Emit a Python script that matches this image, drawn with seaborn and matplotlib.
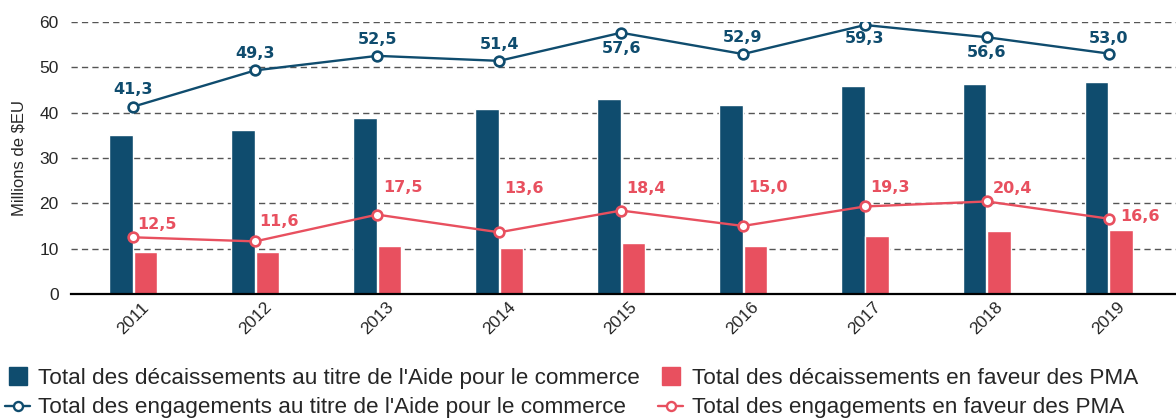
import matplotlib.pyplot as plt
import seaborn as sns
import pandas as pd
from matplotlib.lines import Line2D

# données (millions de $EU)
annees = ['2011', '2012', '2013', '2014', '2015', '2016', '2017', '2018', '2019']
decaissements_apc = [35.1, 36.1, 38.8, 40.8, 42.9, 41.6, 45.8, 46.3, 46.7]
decaissements_pma = [9.2, 9.2, 10.6, 10.1, 11.2, 10.6, 12.8, 13.9, 14.1]
engagements_apc = [41.3, 49.3, 52.5, 51.4, 57.6, 52.9, 59.3, 56.6, 53.0]
engagements_pma = [12.5, 11.6, 17.5, 13.6, 18.4, 15.0, 19.3, 20.4, 16.6]

noms = ["Total des décaissements au titre de l'Aide pour le commerce",
        "Total des décaissements en faveur des PMA",
        "Total des engagements au titre de l'Aide pour le commerce",
        "Total des engagements en faveur des PMA"]

bleu = '#0f4c6e'
rouge = '#e8505f'

sns.set_style('white')
plt.rcParams['font.family'] = ['Liberation Sans', 'DejaVu Sans']

barres = pd.DataFrame({
    'annee': annees * 2,
    'valeur': decaissements_apc + decaissements_pma,
    'serie': [noms[0]] * len(annees) + [noms[1]] * len(annees),
})

fig = plt.figure(figsize=(11.76, 4.2), dpi=100)
ax = fig.add_axes([0.0604, 0.30, 0.9396, 0.648])

sns.barplot(data=barres, x='annee', y='valeur', hue='serie', palette=[bleu, rouge],
            width=0.4, gap=0.04, saturation=1, legend=False, ax=ax, zorder=2)

for vals, c in [(engagements_apc, bleu), (engagements_pma, rouge)]:
    sns.pointplot(x=annees, y=vals, color=c, markers='o', errorbar=None,
                  linewidth=1.7, markersize=7, markeredgewidth=1.9,
                  markerfacecolor='white', ax=ax, zorder=4)

# étiquettes des valeurs
decal_apc = [12, 12, 12, 12, -11, 12, -10, -11, 11]
for i, v in enumerate(engagements_apc):
    ax.annotate(f'{v:.1f}'.replace('.', ','), (i, v), xytext=(0, decal_apc[i]),
                textcoords='offset points', ha='center', va='center',
                color=bleu, fontweight='bold', fontsize=11.5, family='DejaVu Sans')

decal_pma = [(3, 9.5), (3, 14.5), (4, 19.5), (4, 31.5), (4, 16), (4, 27.5), (4, 14), (4, 9.5), (8, 1.5)]
for i, v in enumerate(engagements_pma):
    ax.annotate(f'{v:.1f}'.replace('.', ','), (i, v), xytext=decal_pma[i],
                textcoords='offset points', ha='left', va='center',
                color=rouge, fontweight='bold', fontsize=11.5, family='DejaVu Sans')

ax.set_xlim(-0.51, 8.55)
ax.set_ylim(0, 60)
ax.set_yticks(range(0, 61, 10))
ax.yaxis.grid(True, linestyle=(0, (4.5, 3)), color='#555555', linewidth=1.0)
ax.set_axisbelow(True)
ax.tick_params(axis='both', length=0, labelsize=12.5)
ax.tick_params(axis='y', pad=9)
ax.tick_params(axis='x', pad=4)
plt.setp(ax.get_xticklabels(), rotation=45)
ax.set_xlabel('')
ax.set_ylabel(r'Millions de \$EU', fontsize=12, labelpad=9)
for s in ['left', 'top', 'right']:
    ax.spines[s].set_visible(False)
ax.spines['bottom'].set_color('black')
ax.spines['bottom'].set_linewidth(1.6)

poignees = [
    Line2D([], [], marker='s', markersize=13, color=bleu, linestyle='none'),
    Line2D([], [], marker='o', markersize=6.5, color=bleu, markerfacecolor='white', markeredgewidth=1.7, linewidth=1.7),
    Line2D([], [], marker='s', markersize=13, color=rouge, linestyle='none'),
    Line2D([], [], marker='o', markersize=6.5, color=rouge, markerfacecolor='white', markeredgewidth=1.7, linewidth=1.7),
]
fig.legend(poignees, [noms[0], noms[2], noms[1], noms[3]], loc='upper left',
           bbox_to_anchor=(0.0043, 0.124), ncol=2, frameon=False, fontsize=16.2,
           handlelength=1.12, handletextpad=0.36, columnspacing=0.8,
           labelspacing=0.38, borderpad=0, borderaxespad=0)

fig.savefig('out.png', dpi=100)
